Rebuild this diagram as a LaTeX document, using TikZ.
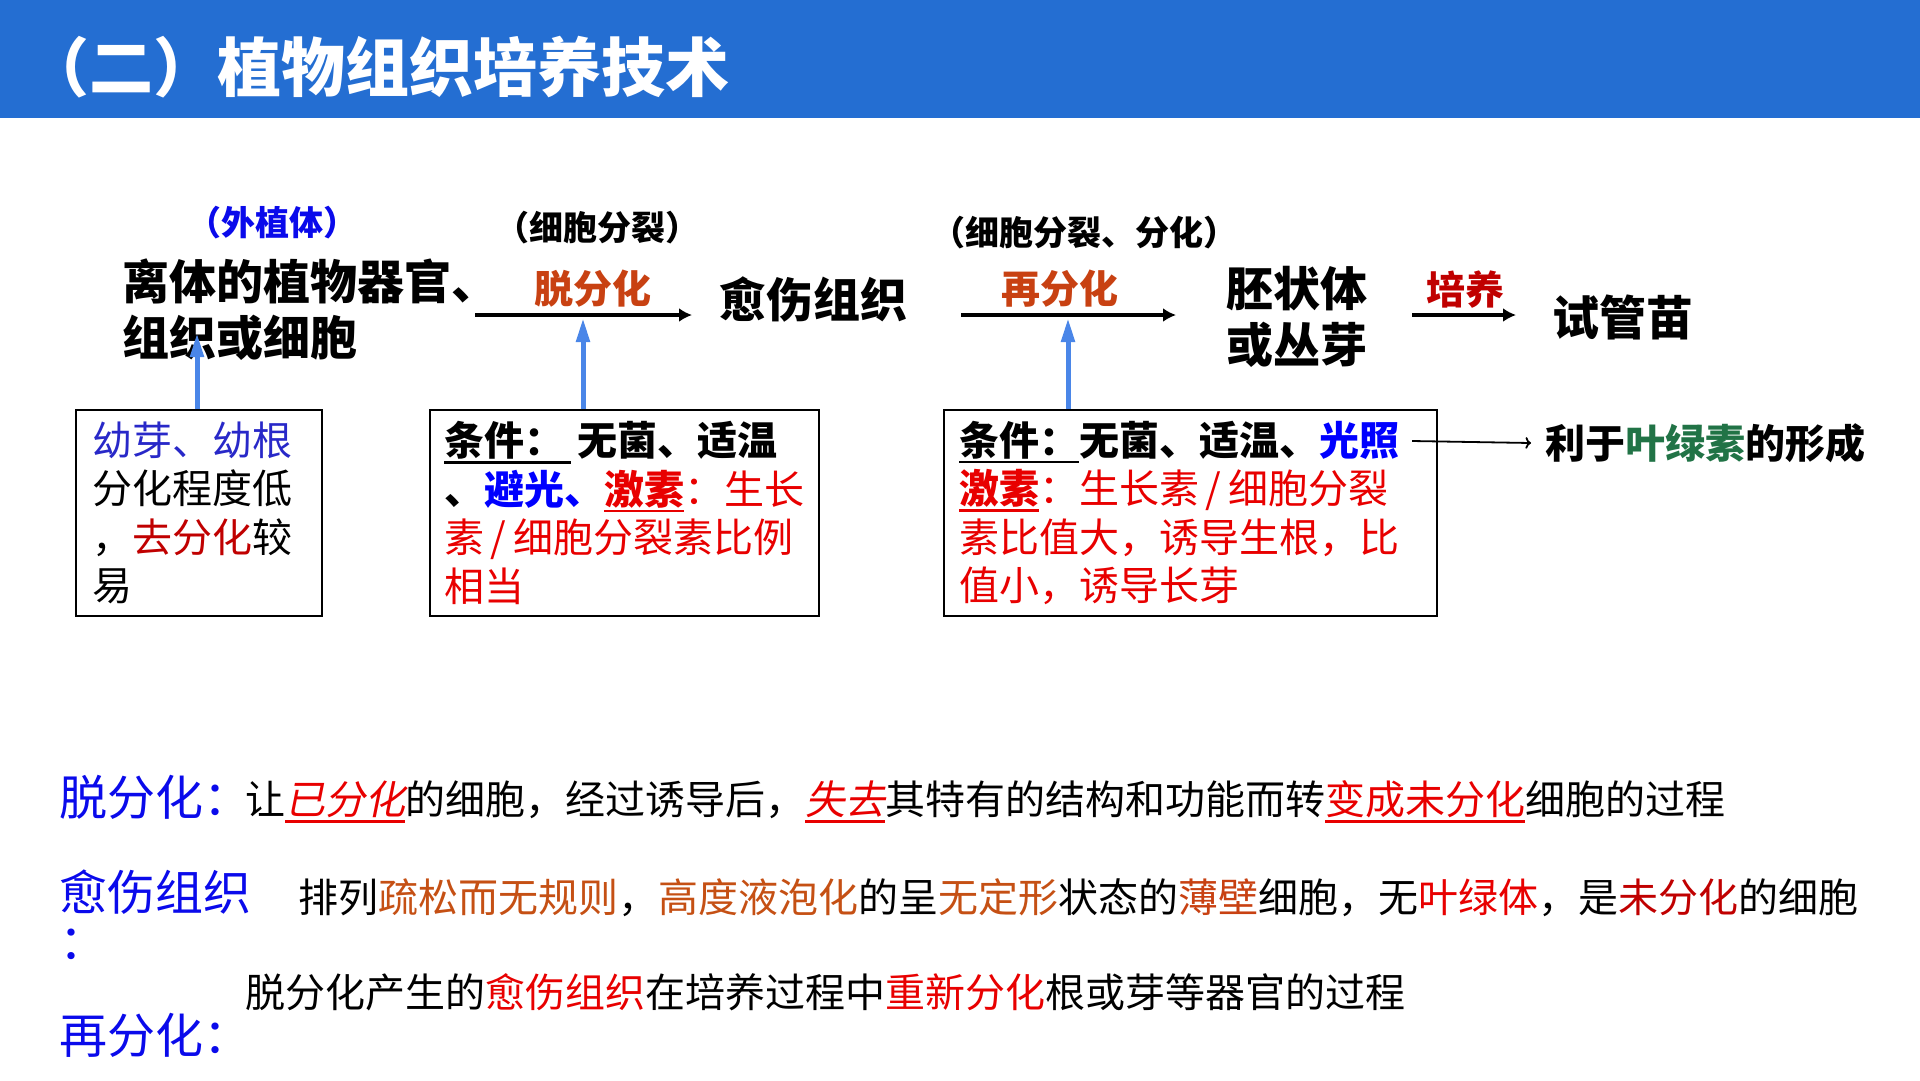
\documentclass[tikz,border=0pt]{standalone}
\usepackage{fontspec}
\setmainfont{Noto Sans CJK SC}
\newfontfamily\slantcjk[FakeSlant=0.2]{Noto Sans CJK SC}
\usepackage{xcolor}
\usetikzlibrary{arrows.meta,positioning}
\definecolor{barblue}{RGB}{36,110,210}
\definecolor{steporange}{RGB}{200,65,18}
\definecolor{deepred}{RGB}{192,0,0}
\definecolor{brightred}{RGB}{232,0,0}
\definecolor{termblue}{RGB}{10,10,235}
\definecolor{softblue}{RGB}{40,40,200}
\definecolor{leafgreen}{RGB}{33,115,70}
\definecolor{arrowblue}{RGB}{74,134,232}
\definecolor{rustorange}{RGB}{197,80,20}
\newcommand{\setfs}[2]{\fontsize{#1}{#2}\selectfont}
\newsavebox{\ulbox}
\newcommand{\ulbar}[1]{\leavevmode\sbox{\ulbox}{#1}\rlap{\rule[-0.2em]{\wd\ulbox}{2.5pt}}\usebox{\ulbox}}

\begin{document}
\begin{tikzpicture}[x=1pt,y=-1pt,
  stage/.style={font=\bfseries\setfs{47}{56},align=left,inner sep=0pt},
  note/.style={font=\bfseries\setfs{34}{34},inner sep=0pt},
  steplabel/.style={font=\bfseries\setfs{39}{39},inner sep=0pt},
  condbox/.style={draw,line width=1.5pt,align=left,font=\setfs{40}{48.5},inner ysep=0pt},
  mainarrow/.style={line width=3.5pt,-{Latex[length=13pt,width=14pt]}},
  uparrow/.style={draw=arrowblue,line width=5pt,-{Triangle[length=24pt,width=13pt]}},
  defterm/.style={font=\setfs{48}{49},text=termblue,inner sep=0pt,align=left},
  deftext/.style={font=\setfs{40}{40},inner sep=0pt}]
\useasboundingbox (0,0) rectangle (1920,1080);
\fill[barblue] (0,0) rectangle (1920,118);
\node[anchor=west,text=white,font=\bfseries\setfs{64}{64},inner sep=0pt] (title) at (25,67) {（二）植物组织培养技术};

\node[note,text=termblue] (explantnote) at (272,223) {（外植体）};
\node[note] (divnote) at (597,228) {（细胞分裂）};
\node[note] (redivnote) at (1084,233) {（细胞分裂、分化）};

\node[stage,anchor=west] (explant) at (122,310) {离体的植物器官、\\组织或细胞};
\node[stage,anchor=west] (callus) at (719,299) {愈伤组织};
\node[stage,anchor=west] (embryoid) at (1226,317) {胚状体\\或丛芽};
\node[stage] (plantlet) at (1623,317) {试管苗};

\node[steplabel,text=steporange] (dediff) at (593,289) {脱分化};
\node[steplabel,text=steporange] (rediff) at (1060,289) {再分化};
\node[steplabel,text=deepred] (culture) at (1465,290) {培养};
\coordinate (a1s) at (475,315);
\coordinate (a1e) at (692,315);
\coordinate (a2s) at (961,315);
\coordinate (a2e) at (1176,315);
\coordinate (a3s) at (1412,315);
\coordinate (a3e) at (1516,315);
\draw[mainarrow] (a1s) -- (a1e);
\draw[mainarrow] (a2s) -- (a2e);
\draw[mainarrow] (a3s) -- (a3e);

\node[condbox,minimum width=246pt,minimum height=206pt,text width=214pt,inner xsep=16pt] (box1) at (199,513)
  {{\color{softblue}幼芽、幼根}\\分化程度低\\，{\color{deepred}去分化}较\\易};
\node[condbox,minimum width=389pt,minimum height=206pt,text width=361pt,inner xsep=14pt] (box2) at (624.5,513)
  {\textbf{\ulbar{条件：\,}\,无菌、适温}\\\textbf{、{\color{blue}避光、}{\color{brightred}\ulbar{激素}}}{\color{brightred}：生长}\\\mbox{\color{brightred}素\,/\,细胞分裂素比例}\\{\color{brightred}相当}};
\node[condbox,minimum width=493pt,minimum height=206pt,text width=463pt,inner xsep=15pt] (box3) at (1190.5,513)
  {\textbf{\ulbar{条件：}无菌、适温、{\color{blue}光照}}\\\mbox{\color{brightred}\textbf{\ulbar{激素}}：生长素\,/\,细胞分裂}\\{\color{brightred}素比值大，诱导生根，比}\\{\color{brightred}值小，诱导长芽}};

\coordinate (tipA) at (197,333);
\coordinate (tipB) at (583,318);
\coordinate (tipC) at (1068,318);
\draw[uparrow] (box1.north -| tipA) -- (tipA);
\draw[uparrow] (box2.north -| tipB) -- (tipB);
\draw[uparrow] (box3.north -| tipC) -- (tipC);

\coordinate (lightstart) at (1412,441);
\node[anchor=west,font=\bfseries\setfs{40}{40},inner xsep=14pt,inner ysep=0pt] (chloro) at (1531,443) {利于{\color{leafgreen}叶绿素}的形成};
\draw[line width=1.8pt,->] (lightstart) -- (chloro.west);

\node[defterm,anchor=west] (termdediff) at (59,797) {脱分化：};
\node[deftext,anchor=west] (textdediff) at (245,802) {让{\color{brightred}\slantcjk\ulbar{已分化}}的细胞，经过诱导后，{\color{brightred}\slantcjk\ulbar{失去}}其特有的结构和功能而转{\color{brightred}\ulbar{变成未分化}}细胞的过程};
\node[defterm,anchor=west] (termcallus) at (59,915) {愈伤组织\\：};
\node[deftext,anchor=west] (textcallus) at (298,898) {排列{\color{rustorange}疏松而无规则}，{\color{rustorange}高度液泡化}的呈{\color{rustorange}无定形}状态的{\color{steporange}薄壁}细胞，无{\color{brightred}叶绿体}，是{\color{deepred}未分化}的细胞};
\node[deftext,anchor=west] (textrediff) at (245,992) {脱分化产生的{\color{brightred}愈伤组织}在培养过程中{\color{brightred}重新分化}根或芽等器官的过程};
\node[defterm,anchor=west] (termrediff) at (59,1035) {再分化：};
\end{tikzpicture}
\end{document}
